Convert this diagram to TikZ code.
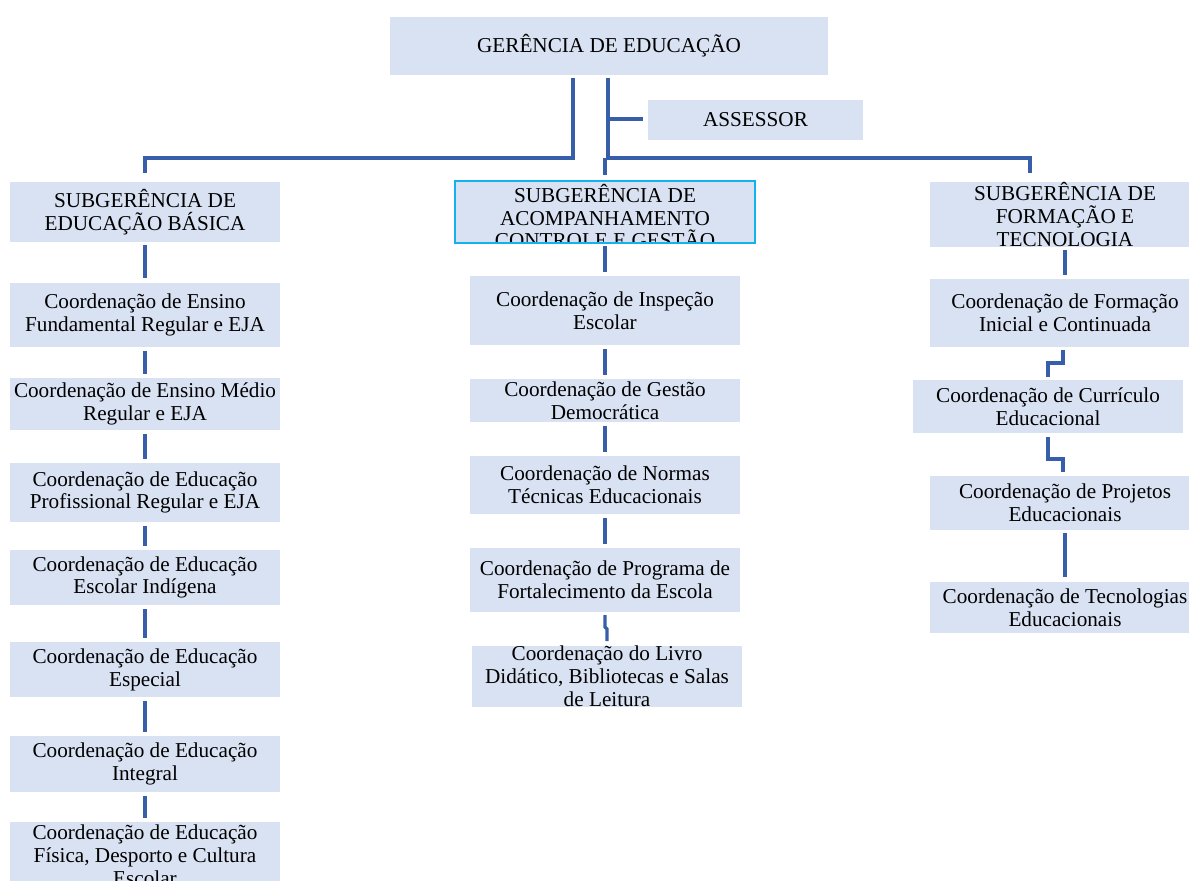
\documentclass[tikz,border=0pt]{standalone}
\usepackage{fontspec}
\setmainfont{Liberation Serif}
\usetikzlibrary{calc}
\definecolor{boxfill}{RGB}{217,226,243}
\definecolor{linecol}{RGB}{55,94,168}
\definecolor{hilite}{RGB}{20,176,240}
\newcommand\boxfont{\fontsize{21.2}{22.8}\selectfont}
\tikzset{
  box/.style={fill=boxfill, inner sep=0pt, outer sep=0pt, align=center, font=\boxfont, minimum width=270pt},
  conn/.style={draw=linecol, line width=3.2pt},
  gap/.style={shorten <=4pt, shorten >=4pt}
}
\begin{document}
\begin{tikzpicture}[x=1pt,y=-1pt]
\useasboundingbox (0,0) rectangle (1189,881);
\clip (0,0) rectangle (1189,881);
% top level
\node[box, minimum width=438pt, minimum height=58pt] (ger) at (609,46) {GERÊNCIA DE EDUCAÇÃO};
\node[box, minimum width=215pt, minimum height=40pt] (ass) at (755.5,120) {ASSESSOR};
% subgerencias
\node[box, minimum height=60pt] (sgb) at (145,212) {SUBGERÊNCIA DE\\EDUCAÇÃO BÁSICA};
\node[box, draw=hilite, line width=2pt, minimum width=300pt, minimum height=62pt,
  path picture={\node[align=center, font=\boxfont, inner sep=0pt] at ([yshift=-4pt]path picture bounding box.center) {SUBGERÊNCIA DE\\ACOMPANHAMENTO\\CONTROLE E GESTÃO};}] (sga) at (605,212) {};
\node[box, minimum height=65pt] (sgf) at (1065,214.5) {SUBGERÊNCIA DE\\FORMAÇÃO E\\TECNOLOGIA};
% left column
\node[box, minimum height=64pt] (c1) at (145,315) {Coordenação de Ensino\\Fundamental Regular e EJA};
\node[box, minimum height=52pt] (c2) at (145,404) {Coordenação de Ensino Médio\\Regular e EJA};
\node[box, minimum height=59pt] (c3) at (145,492.5) {Coordenação de Educação\\Profissional Regular e EJA};
\node[box, minimum height=55pt] (c4) at (145,577.5) {Coordenação de Educação\\Escolar Indígena};
\node[box, minimum height=55pt] (c5) at (145,669.5) {Coordenação de Educação\\Especial};
\node[box, minimum height=56pt] (c6) at (145,764) {Coordenação de Educação\\Integral};
\node[box, minimum height=66pt] (c7) at (145,855) {Coordenação de Educação\\Física, Desporto e Cultura\\Escolar};
% middle column
\node[box, minimum height=69pt] (m1) at (605,310.5) {Coordenação de Inspeção\\Escolar};
\node[box, minimum height=43pt] (m2) at (605,400.5) {Coordenação de Gestão\\Democrática};
\node[box, minimum height=58pt] (m3) at (605,485) {Coordenação de Normas\\Técnicas Educacionais};
\node[box, minimum height=64pt] (m4) at (605,580) {Coordenação de Programa de\\Fortalecimento da Escola};
\node[box, minimum height=61pt] (m5) at (607,676.5) {Coordenação do Livro\\Didático, Bibliotecas e Salas\\de Leitura};
% right column
\node[box, minimum height=68pt] (r1) at (1065,313) {Coordenação de Formação\\Inicial e Continuada};
\node[box, minimum height=53pt] (r2) at (1048,406.5) {Coordenação de Currículo\\Educacional};
\node[box, minimum height=54pt] (r3) at (1065,503) {Coordenação de Projetos\\Educacionais};
\node[box, minimum height=51pt] (r4) at (1065,607.5) {Coordenação de Tecnologias\\Educacionais};
% top connectors
\coordinate (spine) at (608,119);
\draw[conn] ([xshift=-36pt,yshift=-3pt]ger.south) |- ([yshift=24pt]sgb.north) -- ([yshift=9pt]sgb.north);
\draw[conn] ([xshift=-1pt,yshift=-3pt]ger.south) |- ([xshift=-35pt,yshift=24pt]sgf.north) -- ([xshift=-35pt,yshift=9pt]sgf.north);
\draw[conn] (spine) -- ([xshift=-5pt,yshift=1pt]ass.west);
\draw[conn] ([yshift=23pt]sga.north) -- ([yshift=6pt]sga.north);
% left column connectors
\draw[conn, shorten <=3pt, shorten >=5pt] (sgb.south) -- (c1.north);
\draw[conn, gap] (c1.south) -- (c2.north);
\draw[conn, gap] (c2.south) -- (c3.north);
\draw[conn, gap] (c3.south) -- (c4.north);
\draw[conn, gap] (c4.south) -- (c5.north);
\draw[conn, gap] (c5.south) -- (c6.north);
\draw[conn, gap] (c6.south) -- (c7.north);
% middle column connectors
\draw[conn, shorten <=3pt, shorten >=4pt] (sga.south) -- (m1.north);
\draw[conn, gap] (m1.south) -- (m2.north);
\draw[conn, gap] (m2.south) -- (m3.north);
\draw[conn, gap] (m3.south) -- (m4.north);
\draw[conn] ([yshift=-3pt]m4.south) -- ++(0,12) -- ++(2,2) -- ([yshift=5pt]m5.north);
% right column connectors
\draw[conn, shorten <=3pt, shorten >=4pt] (sgf.south) -- (r1.north);
\draw[conn] ([xshift=-2pt,yshift=-3pt]r1.south) |- ([yshift=17pt]r2.north) -- ([yshift=3pt]r2.north);
\draw[conn] ([yshift=-4pt]r2.south) |- ([xshift=-2pt,yshift=17pt]r3.north) -- ([xshift=-2pt,yshift=4pt]r3.north);
\draw[conn, shorten <=3pt, shorten >=5pt] (r3.south) -- (r4.north);
\end{tikzpicture}
\end{document}
